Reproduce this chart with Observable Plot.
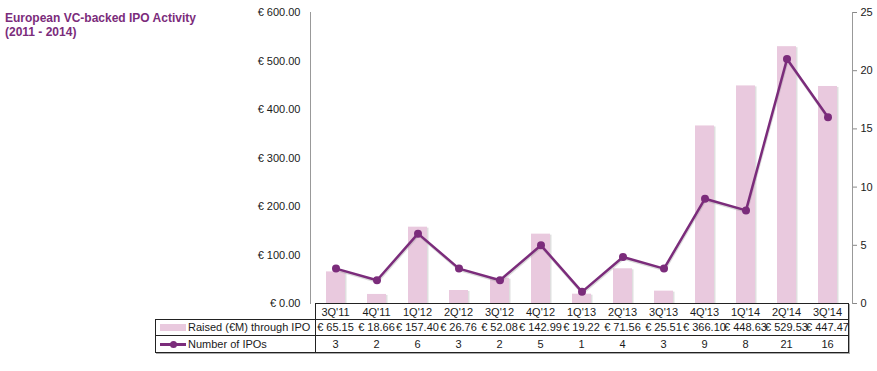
<!DOCTYPE html>
<html>
<head>
<meta charset="utf-8">
<script src="https://cdn.jsdelivr.net/npm/d3@7"></script>
<script src="https://cdn.jsdelivr.net/npm/@observablehq/plot@0.6"></script>
<style>
  html, body { margin: 0; padding: 0; background: #fff; }
  #wrap { position: relative; width: 877px; height: 371px; font-family: "Liberation Sans", Arial, Helvetica, sans-serif; color: #1a1a1a; overflow: hidden; }
  #title { position: absolute; left: 5px; top: 11px; font-size: 12px; font-weight: bold; line-height: 14px; color: #7b2c7b; }
  .box { position: absolute; box-sizing: border-box; border: 1px solid #222; box-shadow: 1px 1px 0 #aaa; background: #fff; }
  .cell { position: absolute; text-align: center; font-size: 11px; white-space: nowrap; }
  .lbl { position: absolute; font-size: 11px; white-space: nowrap; }
  .hline { position: absolute; height: 1px; background: #222; }
  .vline { position: absolute; width: 1px; background: #222; }
</style>
</head>
<body>
<div id="wrap">
  <div id="title">European VC-backed IPO Activity<br>(2011 - 2014)</div>
</div>
<script>
const categories = ["3Q'11","4Q'11","1Q'12","2Q'12","3Q'12","4Q'12","1Q'13","2Q'13","3Q'13","4Q'13","1Q'14","2Q'14","3Q'14"];
const raised = [65.15, 18.66, 157.40, 26.76, 52.08, 142.99, 19.22, 71.56, 25.51, 366.10, 448.63, 529.53, 447.47];
const ipos = [3, 2, 6, 3, 2, 5, 1, 4, 3, 9, 8, 21, 16];
const leftTicks = [0, 100, 200, 300, 400, 500, 600];
const rightTicks = [0, 5, 10, 15, 20, 25];
const seriesNames = ["Raised (€M) through IPO", "Number of IPOs"];

const barColor = "#e9c9de";
const lineColor = "#7b2c7b";
const k = 600 / 25;

const data = categories.map((q, i) => ({q, raised: raised[i], ipos: ipos[i]}));

const chart = Plot.plot({
  width: 877,
  height: 371,
  marginLeft: 310,
  marginRight: 25,
  marginTop: 12,
  marginBottom: 68,
  style: {fontFamily: "'Liberation Sans', Arial, sans-serif", fontSize: "11px", color: "#1a1a1a", background: "transparent"},
  x: {domain: categories, padding: 0, axis: null},
  y: {domain: [0, 600]},
  marks: [
    Plot.barY(data, {x: "q", y: "raised", fill: "#b8b8b8", fillOpacity: 0.45, dx: 1.5, dy: 1, insetLeft: 11, insetRight: 11}),
    Plot.barY(data, {x: "q", y: "raised", fill: barColor, insetLeft: 11, insetRight: 11}),
    Plot.line(data, {x: "q", y: d => d.ipos * k, stroke: "#999", strokeOpacity: 0.35, strokeWidth: 2.5, dy: 1.5, dx: 0.5}),
    Plot.line(data, {x: "q", y: d => d.ipos * k, stroke: lineColor, strokeWidth: 2.5}),
    Plot.dot(data, {x: "q", y: d => d.ipos * k, fill: lineColor, r: 4}),
    Plot.frame({anchor: "left", stroke: "#999"}),
    Plot.frame({anchor: "right", stroke: "#999"}),
    Plot.axisY({anchor: "left", ticks: leftTicks, tickFormat: d => "€ " + d.toFixed(2), tickSize: 0, tickPadding: 10, label: null}),
    Plot.axisY({anchor: "right", ticks: rightTicks.map(d => d * k), tickFormat: d => String(Math.round(d / k)), tickSize: 4, tickPadding: 4, stroke: "#888", label: null})
  ]
});
chart.style.position = "absolute";
chart.style.left = "0px";
chart.style.top = "0px";
const wrap = document.getElementById("wrap");
wrap.appendChild(chart);

// Data table below the chart, columns aligned with the chart's x scale
const xs = chart.scale("x");
const ys = chart.scale("y");
const bw = xs.bandwidth;
const colLeft = c => xs.apply(c);
const x0 = colLeft(categories[0]);
const x1 = colLeft(categories[categories.length - 1]) + bw;
const top0 = Math.round(ys.apply(0));
const tableLeft = 155;
const rowH = 16.5;

function el(cls, styles, text) {
  const d = document.createElement("div");
  d.className = cls;
  Object.assign(d.style, styles);
  if (text != null) d.textContent = text;
  wrap.appendChild(d);
  return d;
}

// header box
el("box", {left: x0 + "px", top: top0 + "px", width: (x1 - x0 + 1) + "px", height: "17px"});
// body box
el("box", {left: tableLeft + "px", top: (top0 + 16) + "px", width: (x1 - tableLeft + 1) + "px", height: "34px"});
el("hline", {left: tableLeft + "px", top: (top0 + 32) + "px", width: (x1 - tableLeft) + "px"});
el("vline", {left: x0 + "px", top: (top0 + 16) + "px", height: "34px"});

categories.forEach((c, i) => {
  const L = colLeft(c);
  el("cell", {left: L + "px", width: bw + "px", top: (top0 + 2) + "px", lineHeight: "14px"}, c);
  el("cell", {left: (L - 4) + "px", width: (bw + 8) + "px", top: (top0 + 17) + "px", lineHeight: "15px"}, "€ " + raised[i].toFixed(2));
  el("cell", {left: L + "px", width: bw + "px", top: (top0 + 33) + "px", lineHeight: "16px"}, String(ipos[i]));
});

// legend swatches and row labels
el("", {position: "absolute", left: "160px", top: (top0 + 21) + "px", width: "26px", height: "7px", background: barColor});
el("lbl", {left: "188px", top: (top0 + 17) + "px", lineHeight: "15px"}, seriesNames[0]);
el("", {position: "absolute", left: "160px", top: (top0 + 40) + "px", width: "26px", height: "2.5px", background: lineColor});
el("", {position: "absolute", left: "170px", top: (top0 + 38) + "px", width: "7px", height: "7px", borderRadius: "50%", background: lineColor});
el("lbl", {left: "188px", top: (top0 + 33) + "px", lineHeight: "16px"}, seriesNames[1]);
</script>
</body>
</html>
